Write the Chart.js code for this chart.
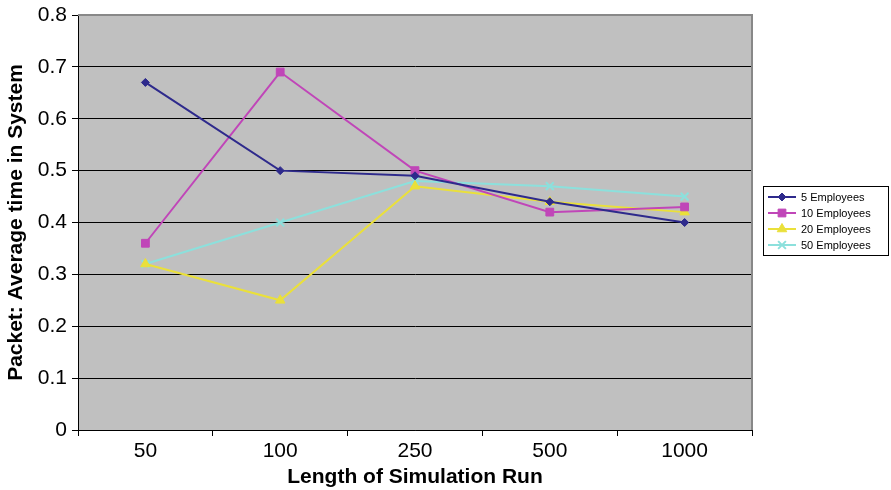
<!DOCTYPE html>
<html>
<head>
<meta charset="utf-8">
<script src="https://cdn.jsdelivr.net/npm/chart.js@4/dist/chart.umd.min.js"></script>
<style>
html,body{margin:0;padding:0;background:#fff;}
#wrap{width:891px;height:490px;position:relative;}
</style>
</head>
<body>
<div id="wrap"><canvas id="c" width="891" height="490"></canvas></div>
<script>
const categories = ['50', '100', '250', '500', '1000'];
const emp5  = [0.67, 0.50, 0.49, 0.44, 0.40];
const emp10 = [0.36, 0.69, 0.50, 0.42, 0.43];
const emp20 = [0.32, 0.25, 0.47, 0.44, 0.42];
const emp50 = [0.32, 0.40, 0.48, 0.47, 0.45];
const seriesNames = ['5 Employees', '10 Employees', '20 Employees', '50 Employees'];
const yTicks = [0, 0.1, 0.2, 0.3, 0.4, 0.5, 0.6, 0.7, 0.8];

const colors = ['#2E2A8C', '#C046B8', '#EAE03A', '#8CE0DC'];
const styles = ['rectRot', 'rect', 'triangle', 'crossRot'];
const radii = [4, 5.5, 5.5, 5.5];

const FONT = '"Liberation Sans", Arial, sans-serif';

const bgPlugin = {
  id: 'plotBg',
  beforeDraw(chart) {
    const {ctx, chartArea: a} = chart;
    ctx.save();
    ctx.fillStyle = '#C0C0C0';
    ctx.fillRect(a.left, a.top, a.right - a.left, a.bottom - a.top);
    ctx.restore();
  },
  afterDatasetsDraw(chart) {
    const {ctx, chartArea: a} = chart;
    ctx.save();
    ctx.strokeStyle = '#888888';
    ctx.lineWidth = 2;
    ctx.beginPath();
    ctx.moveTo(a.left, a.top);
    ctx.lineTo(a.right, a.top);
    ctx.lineTo(a.right, a.bottom);
    ctx.stroke();
    ctx.restore();
  }
};

const legendPlugin = {
  id: 'customLegend',
  afterDraw(chart) {
    const ctx = chart.ctx;
    const x0 = 763, y0 = 186, w = 125, h = 69;
    ctx.save();
    ctx.fillStyle = '#fff';
    ctx.fillRect(x0, y0, w, h);
    ctx.strokeStyle = '#000';
    ctx.lineWidth = 1;
    ctx.strokeRect(x0 + 0.5, y0 + 0.5, w, h);
    ctx.textBaseline = 'middle';
    chart.data.datasets.forEach((ds, i) => {
      const y = y0 + 11 + i * 16;
      ctx.strokeStyle = ds.borderColor;
      ctx.lineWidth = 2;
      ctx.beginPath();
      ctx.moveTo(x0 + 5, y);
      ctx.lineTo(x0 + 33, y);
      ctx.stroke();
      ctx.fillStyle = ds.borderColor;
      ctx.strokeStyle = ds.borderColor;
      ctx.lineWidth = ds.pointBorderWidth;
      Chart.helpers.drawPoint(ctx, {
        pointStyle: ds.pointStyle, radius: ds.pointRadius, borderWidth: ds.pointBorderWidth, rotation: 0
      }, x0 + 19, y);
      ctx.fillStyle = '#000';
      ctx.font = '11px ' + FONT;
      ctx.fillText(ds.label, x0 + 38, y + 1);
    });
    ctx.restore();
  }
};

function makeDs(i, data) {
  return {
    label: seriesNames[i],
    data: data,
    borderColor: colors[i],
    backgroundColor: colors[i],
    pointBackgroundColor: colors[i],
    pointBorderColor: colors[i],
    borderWidth: 2,
    pointStyle: styles[i],
    pointRadius: radii[i],
    pointBorderWidth: styles[i] === 'crossRot' ? 2 : 1,
    tension: 0,
    fill: false
  };
}

new Chart(document.getElementById('c'), {
  type: 'line',
  data: {
    labels: categories,
    datasets: [makeDs(0, emp5), makeDs(1, emp10), makeDs(2, emp20), makeDs(3, emp50)]
  },
  options: {
    responsive: false,
    animation: false,
    events: [],
    layout: { padding: { top: 15, right: 139, bottom: 0, left: 0 } },
    plugins: {
      legend: { display: false },
      tooltip: { enabled: false }
    },
    scales: {
      x: {
        offset: true,
        grid: { display: true, offset: true, drawOnChartArea: false, color: '#000', tickLength: 6, lineWidth: 1 },
        border: { display: true, color: '#000', width: 1 },
        ticks: { color: '#000', font: { family: FONT, size: 21 }, padding: 3, maxRotation: 0 },
        title: { display: true, text: 'Length of Simulation Run', color: '#000', font: { family: FONT, size: 21, weight: 'bold' }, padding: { top: 0, bottom: 0 } },
        afterFit(scale) { scale.height = 60; scale.paddingLeft = 0; scale.paddingRight = 0; }
      },
      y: {
        min: 0, max: 0.8,
        afterBuildTicks(scale) { scale.ticks = yTicks.map(v => ({ value: v })); },
        grid: { color: '#000', lineWidth: 1, tickLength: 6 },
        border: { display: true, color: '#000', width: 1 },
        ticks: { color: '#000', font: { family: FONT, size: 21 }, padding: 5,
          callback: (v) => (v === 0 ? '0' : v.toFixed(1)) },
        title: { display: true, text: 'Packet: Average time in System', color: '#000', font: { family: FONT, size: 21, weight: 'bold' }, padding: { top: 4, bottom: 2 } },
        afterFit(scale) { scale.width = 78; scale.paddingTop = 0; scale.paddingBottom = 0; }
      }
    }
  },
  plugins: [bgPlugin, legendPlugin]
});
</script>
</body>
</html>
